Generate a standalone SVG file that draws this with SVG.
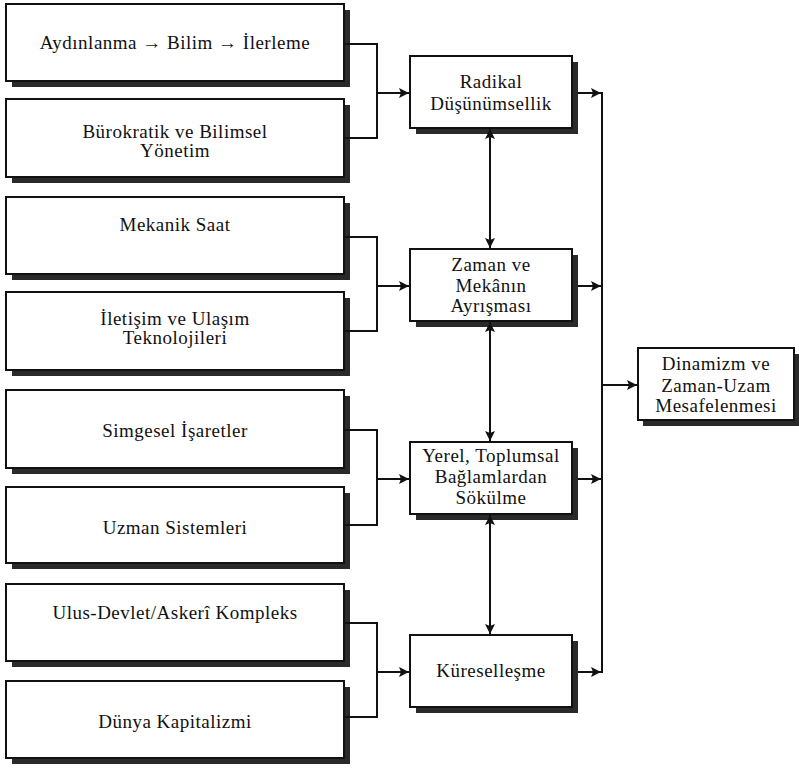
<svg xmlns="http://www.w3.org/2000/svg" width="799" height="769" viewBox="0 0 799 769">
<style>
.sh{fill:#2a2a2a}
.bx{fill:#fff;stroke:#111;stroke-width:2}
text{font-family:"Liberation Serif","DejaVu Serif",serif;font-size:19px;fill:#111;text-anchor:middle;letter-spacing:0.5px}
.c{fill:none;stroke:#111;stroke-width:2}
</style>
<defs>
<marker id="ah" viewBox="0 0 10 10" refX="10" refY="5" markerWidth="11" markerHeight="10" markerUnits="userSpaceOnUse" orient="auto-start-reverse">
<path d="M0,0 L10,5 L0,10 L2,5 z" fill="#111"/>
</marker>
</defs>
<rect width="799" height="769" fill="#fff"/>
<g id="n1"><rect class="sh" x="12" y="10" width="338" height="77"/><rect class="bx" x="6" y="4" width="338" height="77"/><text x="175" y="49">Aydınlanma → Bilim → İlerleme</text></g>
<g id="n2"><rect class="sh" x="12" y="105" width="338" height="78"/><rect class="bx" x="6" y="99" width="338" height="78"/><text x="175" y="138">Bürokratik ve Bilimsel</text><text x="175" y="157">Yönetim</text></g>
<g id="n3"><rect class="sh" x="12" y="203" width="338" height="77"/><rect class="bx" x="6" y="197" width="338" height="77"/><text x="175" y="231">Mekanik Saat</text></g>
<g id="n4"><rect class="sh" x="12" y="298" width="338" height="78"/><rect class="bx" x="6" y="292" width="338" height="78"/><text x="175" y="325">İletişim ve Ulaşım</text><text x="175" y="344">Teknolojileri</text></g>
<g id="n5"><rect class="sh" x="12" y="396" width="338" height="78"/><rect class="bx" x="6" y="390" width="338" height="78"/><text x="175" y="437">Simgesel İşaretler</text></g>
<g id="n6"><rect class="sh" x="12" y="493" width="338" height="76"/><rect class="bx" x="6" y="487" width="338" height="76"/><text x="175" y="534">Uzman Sistemleri</text></g>
<g id="n7"><rect class="sh" x="12" y="590" width="338" height="77"/><rect class="bx" x="6" y="584" width="338" height="77"/><text x="175" y="619">Ulus-Devlet/Askerî Kompleks</text></g>
<g id="n8"><rect class="sh" x="12" y="687" width="338" height="77"/><rect class="bx" x="6" y="681" width="338" height="77"/><text x="175" y="728">Dünya Kapitalizmi</text></g>
<g id="m1"><rect class="sh" x="416" y="62" width="162" height="72"/><rect class="bx" x="410" y="56" width="162" height="72"/><text x="491" y="88">Radikal</text><text x="491" y="110">Düşünümsellik</text></g>
<g id="m2"><rect class="sh" x="416" y="255" width="162" height="72"/><rect class="bx" x="410" y="249" width="162" height="72"/><text x="491" y="271">Zaman ve</text><text x="491" y="292">Mekânın</text><text x="491" y="312">Ayrışması</text></g>
<g id="m3"><rect class="sh" x="416" y="448" width="162" height="72"/><rect class="bx" x="410" y="442" width="162" height="72"/><text x="491" y="462">Yerel, Toplumsal</text><text x="491" y="483">Bağlamlardan</text><text x="491" y="504">Sökülme</text></g>
<g id="m4"><rect class="sh" x="416" y="641" width="162" height="72"/><rect class="bx" x="410" y="635" width="162" height="72"/><text x="491" y="677">Küreselleşme</text></g>
<g id="d"><rect class="sh" x="643" y="354" width="156" height="72"/><rect class="bx" x="638" y="348" width="156" height="72"/><text x="716" y="370">Dinamizm ve</text><text x="716" y="392">Zaman-Uzam</text><text x="716" y="412">Mesafelenmesi</text></g>
<g id="connectors">
<path class="c" d="M344,44 H377 V138 H344"/>
<path class="c" d="M377,93 H409" marker-end="url(#ah)"/>
<path class="c" d="M344,237 H377 V331 H344"/>
<path class="c" d="M377,286 H409" marker-end="url(#ah)"/>
<path class="c" d="M344,430 H377 V525 H344"/>
<path class="c" d="M377,479 H409" marker-end="url(#ah)"/>
<path class="c" d="M344,623 H377 V717 H344"/>
<path class="c" d="M377,672 H409" marker-end="url(#ah)"/>
<path class="c" d="M578,93 H601" marker-end="url(#ah)"/>
<path class="c" d="M578,286 H601" marker-end="url(#ah)"/>
<path class="c" d="M578,479 H601" marker-end="url(#ah)"/>
<path class="c" d="M578,672 H601" marker-end="url(#ah)"/>
<path class="c" d="M602,92 V673"/>
<path class="c" d="M602,385 H637" marker-end="url(#ah)"/>
<path class="c" d="M490,129 V248" marker-start="url(#ah)" marker-end="url(#ah)"/>
<path class="c" d="M490,322 V441" marker-start="url(#ah)" marker-end="url(#ah)"/>
<path class="c" d="M490,515 V634" marker-start="url(#ah)" marker-end="url(#ah)"/>
</g>
</svg>
